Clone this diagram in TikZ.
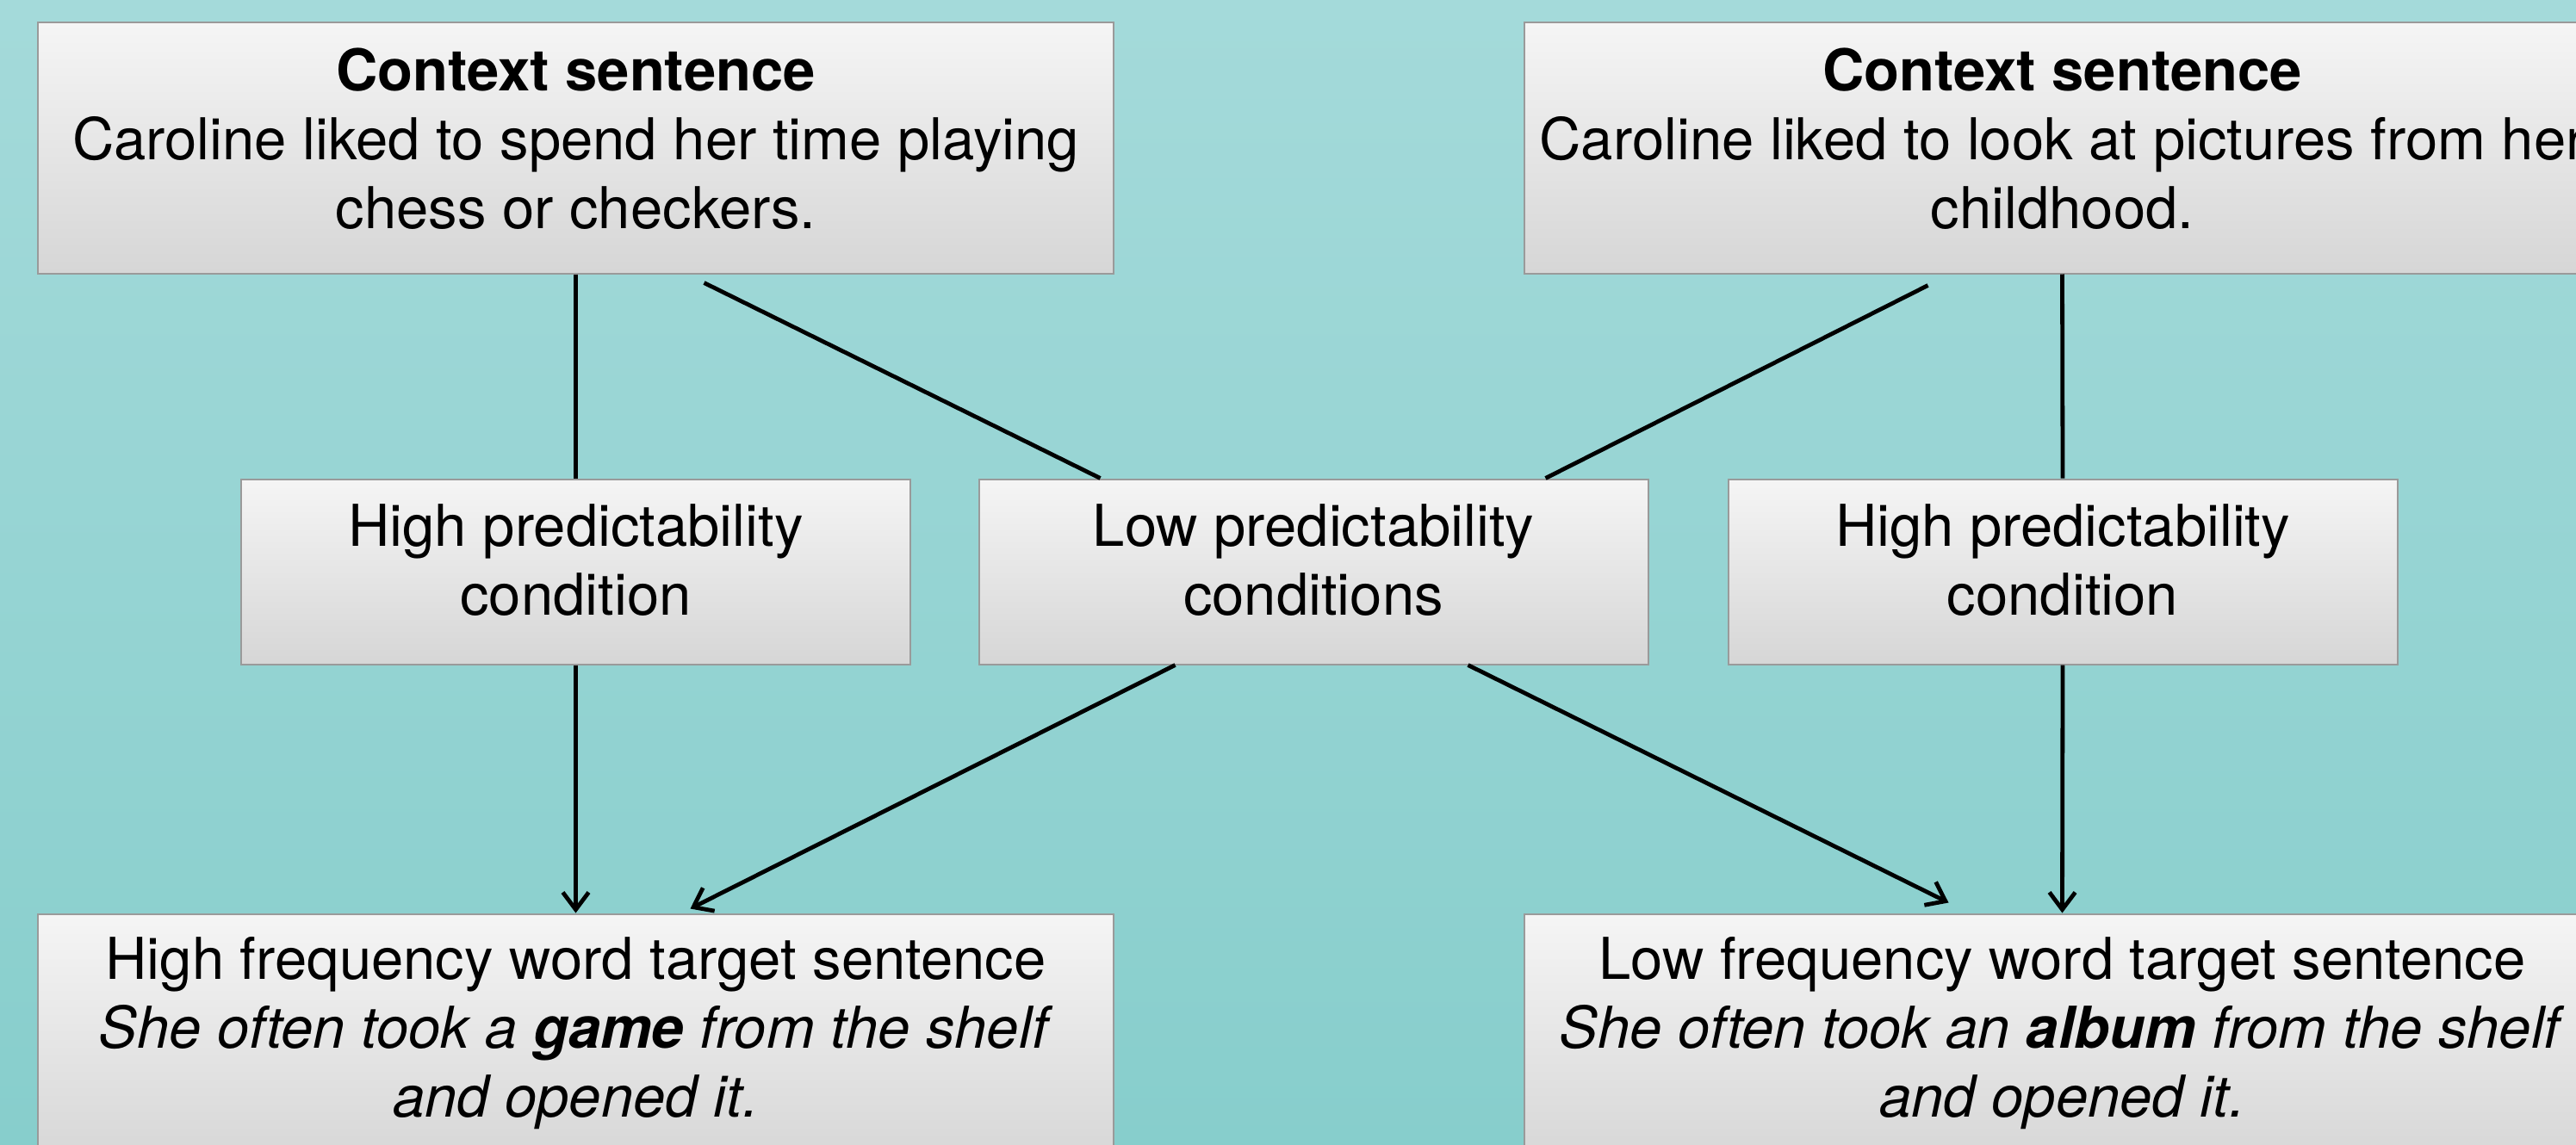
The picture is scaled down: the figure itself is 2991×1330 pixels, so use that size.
\documentclass[tikz,border=0pt]{standalone}
\usepackage{fontspec}
\setmainfont{TeX Gyre Heros}
\usetikzlibrary{arrows.meta,calc}
\definecolor{bgtop}{HTML}{A4DADA}
\definecolor{bgbot}{HTML}{87CECC}
\definecolor{boxtop}{HTML}{F5F5F5}
\definecolor{boxbot}{HTML}{D6D6D6}
\definecolor{boxline}{HTML}{9A9A9A}
\begin{document}
\begin{tikzpicture}[x=1pt,y=-1pt,
  box/.style={draw=boxline, line width=2pt, top color=boxtop, bottom color=boxbot, inner sep=0pt},
  bigbox/.style={box, minimum width=1249pt, minimum height=291pt},
  smallbox/.style={box, minimum width=777pt, minimum height=215pt},
  txt/.style={align=center, inner sep=0pt, font=\fontsize{67}{80}\selectfont},
  link/.style={line width=4.8pt, black},
  arr/.style={link, -{Straight Barb[length=20pt,width=30pt]}}]
\useasboundingbox (0,0) rectangle (2991,1330);
\clip (0,0) rectangle (2991,1330);
\shade[top color=bgtop, bottom color=bgbot] (0,0) rectangle (2991,1330);

\node[bigbox] (TL) at (668.5,172) {};
\node[bigbox] (TR) at (2394.5,172) {};
\node[smallbox] (ML) at (668.5,664) {};
\node[smallbox] (MC) at (1525,664) {};
\node[smallbox] (MR) at (2395,664) {};
\node[bigbox] (BL) at (668.5,1207) {};
\node[bigbox] (BR) at (2394.5,1207) {};

\node[txt] (TLt) at ([yshift=11pt]TL.center) {\textbf{Context sentence}\\Caroline liked to spend her time playing\\chess or checkers.};
\node[txt] (TRt) at ([yshift=11pt]TR.center) {\textbf{Context sentence}\\Caroline liked to look at pictures from her\\childhood.};
\node[txt] (MLt) at ([yshift=13pt]ML.center) {High predictability\\condition};
\node[txt] (MCt) at ([yshift=13pt]MC.center) {Low predictability\\conditions};
\node[txt] (MRt) at ([yshift=13pt]MR.center) {High predictability\\condition};
\node[txt] (BLt) at ([yshift=7pt]BL.center) {High frequency word target sentence\\\textit{She often took a \textbf{game} from the shelf}\\\textit{and opened it.}};
\node[txt] (BRt) at ([yshift=7pt]BR.center) {Low frequency word target sentence\\\textit{She often took an \textbf{album} from the shelf}\\\textit{and opened it.}};

\coordinate (s1) at ($(TL.south)+(149,10)$);
\coordinate (e1) at ($(MC.north west)+(142,0)$);
\coordinate (s2) at ($(TR.south)+(-156,13)$);
\coordinate (e2) at ($(MC.north east)+(-120,0)$);
\coordinate (s3) at ($(MC.south west)+(229,0)$);
\coordinate (e3) at ($(BL.north)+(133,-5)$);
\coordinate (s4) at ($(MC.south east)+(-210,0)$);
\coordinate (e4) at ($(BR.north)+(-132,-12)$);

\draw[link] (TL.south) -- (ML.north);
\draw[link] (TR.south) -- (MR.north);
\draw[arr] (ML.south) -- (BL.north);
\draw[arr] (MR.south) -- (BR.north);
\draw[link] (s1) -- (e1);
\draw[link] (s2) -- (e2);
\draw[arr] (s3) -- (e3);
\draw[arr] (s4) -- (e4);
\end{tikzpicture}
\end{document}
